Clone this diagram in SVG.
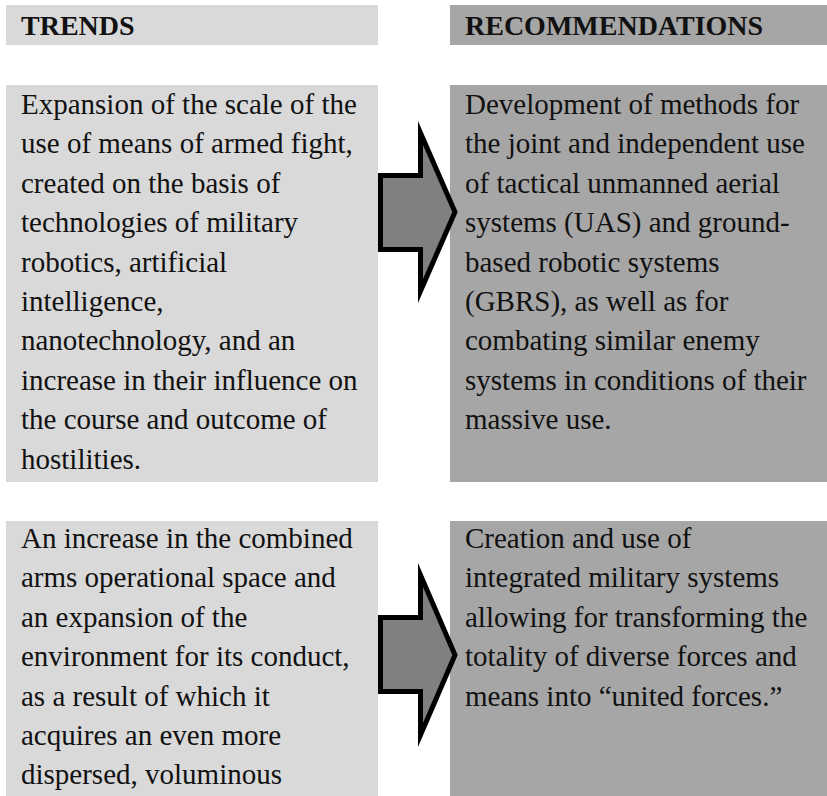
<svg xmlns="http://www.w3.org/2000/svg" width="827" height="796" viewBox="0 0 827 796">
<style>
.l{fill:#d9d9d9}
.r{fill:#a6a6a6}
.h{font-family:"Liberation Serif","Times New Roman",serif;font-weight:bold;font-size:28px;fill:#111}
.t{font-family:"Liberation Serif","Times New Roman",serif;font-size:29px;fill:#111}
.arrow{fill:#808080;stroke:#000;stroke-width:5;stroke-linejoin:miter;stroke-miterlimit:10}
</style>
<rect width="827" height="796" fill="#fff"/>
<g id="header-trends">
<rect class="l" x="6" y="5" width="372" height="40"/>
<text class="h" x="21" y="35">TRENDS</text>
</g>
<g id="header-recommendations">
<rect class="r" x="450" y="5" width="377" height="40"/>
<text class="h" x="465" y="35">RECOMMENDATIONS</text>
</g>
<g id="trend-1">
<rect class="l" x="6" y="85" width="372" height="397"/>
<text class="t">
<tspan x="21" y="114">Expansion of the scale of the</tspan>
<tspan x="21" y="153.4">use of means of armed fight,</tspan>
<tspan x="21" y="192.8">created on the basis of</tspan>
<tspan x="21" y="232.2">technologies of military</tspan>
<tspan x="21" y="271.6">robotics, artificial</tspan>
<tspan x="21" y="311">intelligence,</tspan>
<tspan x="21" y="350.4">nanotechnology, and an</tspan>
<tspan x="21" y="389.8">increase in their influence on</tspan>
<tspan x="21" y="429.2">the course and outcome of</tspan>
<tspan x="21" y="468.6">hostilities.</tspan>
</text>
</g>
<g id="rec-1">
<rect class="r" x="450" y="85" width="377" height="397"/>
<text class="t">
<tspan x="465" y="114">Development of methods for</tspan>
<tspan x="465" y="153.4">the joint and independent use</tspan>
<tspan x="465" y="192.8">of tactical unmanned aerial</tspan>
<tspan x="465" y="232.2">systems (UAS) and ground-</tspan>
<tspan x="465" y="271.6">based robotic systems</tspan>
<tspan x="465" y="311">(GBRS), as well as for</tspan>
<tspan x="465" y="350.4">combating similar enemy</tspan>
<tspan x="465" y="389.8">systems in conditions of their</tspan>
<tspan x="465" y="429.2">massive use.</tspan>
</text>
</g>
<g id="trend-2">
<rect class="l" x="6" y="521" width="372" height="275"/>
<text class="t">
<tspan x="21" y="548">An increase in the combined</tspan>
<tspan x="21" y="587.4">arms operational space and</tspan>
<tspan x="21" y="626.8">an expansion of the</tspan>
<tspan x="21" y="666.2">environment for its conduct,</tspan>
<tspan x="21" y="705.6">as a result of which it</tspan>
<tspan x="21" y="745">acquires an even more</tspan>
<tspan x="21" y="784.4">dispersed, voluminous</tspan>
</text>
</g>
<g id="rec-2">
<rect class="r" x="450" y="521" width="377" height="275"/>
<text class="t">
<tspan x="465" y="548">Creation and use of</tspan>
<tspan x="465" y="587.4">integrated military systems</tspan>
<tspan x="465" y="626.8">allowing for transforming the</tspan>
<tspan x="465" y="666.2">totality of diverse forces and</tspan>
<tspan x="465" y="705.6">means into “united forces.”</tspan>
</text>
</g>
<g id="connectors">
<polygon class="arrow" points="380.5,175.5 420.5,175.5 420.5,133 455,212 420.5,291 420.5,249.5 380.5,249.5"/>
<polygon class="arrow" points="380.5,617.5 420.5,617.5 420.5,575 455,655 420.5,735 420.5,691.5 380.5,691.5"/>
</g>
</svg>
